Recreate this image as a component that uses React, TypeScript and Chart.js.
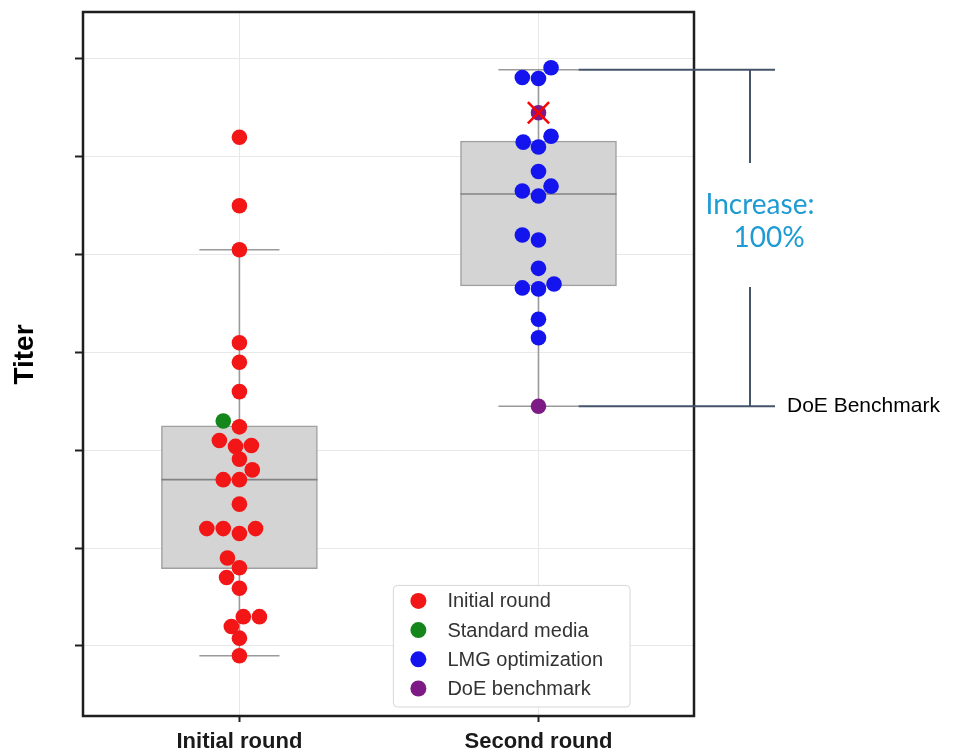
import React, { useEffect, useRef } from 'react';
import { Chart, registerables } from 'chart.js';

Chart.register(...registerables);

const FONT = "'Liberation Sans', Arial, Helvetica, sans-serif";

// Categories and axis
const categories = ['Initial round', 'Second round'];
const yTickValues = [1, 2, 3, 4, 5, 6, 7];
const yMin = 0.2845;
const yMax = 7.48;
const xMin = -0.523;
const xMax = 1.52;

// Box-plot statistics (one entry per category)
const q1 = [1.79, 4.68];
const medians = [2.7, 5.62];
const q3 = [3.25, 6.16];
const whiskerLow = [0.9, 3.45];
const whiskerHigh = [5.05, 6.89];

// Swarm points: titer values and swarm offsets (in category units)
const initialValues = [6.2, 5.5, 5.05, 4.1, 3.9, 3.6, 3.24, 3.1, 3.04, 3.05, 2.91, 2.8, 2.7, 2.7, 2.45, 2.2, 2.2, 2.15, 2.2, 1.9, 1.8, 1.7, 1.59, 1.3, 1.3, 1.2, 1.08, 0.9];
const initialOffsets = [0, 0, 0, 0, 0, 0, 0, -0.067, -0.013, 0.04, 0, 0.043, -0.054, 0, 0, -0.109, -0.054, 0, 0.054, -0.04, 0, -0.043, 0, 0.013, 0.067, -0.027, 0, 0];
const standardValues = [3.3];
const standardOffsets = [-0.054];
const lmgValues = [6.91, 6.81, 6.8, 6.21, 6.15, 6.1, 5.85, 5.7, 5.65, 5.6, 5.2, 5.15, 4.86, 4.7, 4.66, 4.65, 4.34, 4.15];
const lmgOffsets = [0.042, -0.054, 0, 0.042, -0.051, 0, 0, 0.042, -0.054, 0, -0.054, 0, 0, 0.052, -0.054, 0, 0, 0];
const doeValues = [6.45, 3.45];
const doeOffsets = [0, 0];
const excludedValues = [6.45];
const excludedOffsets = [0];

const legendLabels = ['Initial round', 'Standard media', 'LMG optimization', 'DoE benchmark'];
const increaseText = ['Increase:', '100%'];
const benchmarkText = 'DoE Benchmark';
const yTitle = 'Titer';

// style constants
const BOX_HALF = 0.261;
const CAP_HALF = 0.134;

const toPoints = (cat: number, values: number[], offsets: number[]) =>
  values.map((v, i) => ({ x: cat + offsets[i], y: v }));

const whiskerData = () => {
  const pts: any[] = [];
  categories.forEach((_, i) => {
    pts.push({ x: i, y: whiskerLow[i] }, { x: i, y: q1[i] }, { x: i, y: null });
    pts.push({ x: i, y: q3[i] }, { x: i, y: whiskerHigh[i] }, { x: i, y: null });
    pts.push({ x: i - CAP_HALF, y: whiskerLow[i] }, { x: i + CAP_HALF, y: whiskerLow[i] }, { x: i, y: null });
    pts.push({ x: i - CAP_HALF, y: whiskerHigh[i] }, { x: i + CAP_HALF, y: whiskerHigh[i] }, { x: i, y: null });
  });
  return pts;
};

const medianData = () => {
  const pts: any[] = [];
  categories.forEach((_, i) => {
    pts.push({ x: i - BOX_HALF, y: medians[i] }, { x: i + BOX_HALF, y: medians[i] }, { x: i, y: null });
  });
  return pts;
};

const overlayPlugin = {
  id: 'overlay',
  afterDraw(chart: any) {
    const { ctx, chartArea } = chart;
    const xs = chart.scales.x;
    const ys = chart.scales.y;
    ctx.save();

    // frame
    ctx.strokeStyle = '#1e1e1e';
    ctx.lineWidth = 2.5;
    ctx.strokeRect(chartArea.left, chartArea.top, chartArea.right - chartArea.left, chartArea.bottom - chartArea.top);

    // y title
    ctx.save();
    ctx.translate(chartArea.left - 50, (chartArea.top + chartArea.bottom) / 2 - 9.5);
    ctx.rotate(-Math.PI / 2);
    ctx.font = `bold 28px ${FONT}`;
    ctx.fillStyle = '#000';
    ctx.textAlign = 'center';
    ctx.textBaseline = 'alphabetic';
    ctx.fillText(yTitle, 0, 0);
    ctx.restore();

    // increase annotation
    const topY = ys.getPixelForValue(whiskerHigh[1]);
    const botY = ys.getPixelForValue(whiskerLow[1]);
    const startX = xs.getPixelForValue(1 + CAP_HALF);
    const endX = chartArea.right + 81;
    const bracketX = chartArea.right + 56;
    const mid = (topY + botY) / 2;
    ctx.strokeStyle = '#44546a';
    ctx.lineWidth = 2;
    ctx.beginPath();
    ctx.moveTo(startX, topY); ctx.lineTo(endX, topY);
    ctx.moveTo(startX, botY); ctx.lineTo(endX, botY);
    ctx.moveTo(bracketX, topY); ctx.lineTo(bracketX, mid - 75);
    ctx.moveTo(bracketX, mid + 49); ctx.lineTo(bracketX, botY);
    ctx.stroke();

    ctx.fillStyle = '#1f9bd4';
    ctx.font = `28px Lato, 'Open Sans', sans-serif`;
    ctx.textAlign = 'center';
    ctx.textBaseline = 'alphabetic';
    ctx.fillText(increaseText[0], chartArea.right + 66, mid - 24);
    ctx.fillText(increaseText[1], chartArea.right + 75, mid + 9);

    ctx.fillStyle = '#000';
    ctx.font = `21px ${FONT}`;
    ctx.textAlign = 'left';
    ctx.textBaseline = 'middle';
    ctx.fillText(benchmarkText, chartArea.right + 93, botY);

    // legend
    const items = legendLabels.map((label) => {
      const ds = chart.data.datasets.find((d: any) => d.label === label);
      return { label, color: ds ? ds.backgroundColor : '#000' };
    });
    ctx.font = `20px ${FONT}`;
    const textW = Math.max(...items.map((it) => ctx.measureText(it.label).width));
    const rowH = 29.2;
    const padTop = 15.5;
    const padBottom = 18.5;
    const w = textW + 81;
    const h = padTop + rowH * (items.length - 1) + padBottom;
    const right = chartArea.right - 64;
    const bottom = chartArea.bottom - 9;
    const left = right - w;
    const top = bottom - h;
    ctx.beginPath();
    if (ctx.roundRect) ctx.roundRect(left, top, w, h, 4);
    else ctx.rect(left, top, w, h);
    ctx.fillStyle = 'rgba(255,255,255,0.92)';
    ctx.fill();
    ctx.strokeStyle = '#d6d6d6';
    ctx.lineWidth = 1;
    ctx.stroke();
    items.forEach((it, i) => {
      const cy = top + padTop + i * rowH;
      ctx.beginPath();
      ctx.arc(left + 25, cy, 8, 0, Math.PI * 2);
      ctx.fillStyle = it.color;
      ctx.fill();
      ctx.fillStyle = '#333';
      ctx.textAlign = 'left';
      ctx.textBaseline = 'middle';
      ctx.fillText(it.label, left + 54, cy + 1);
    });

    ctx.restore();
  },
};

export default function App() {
  const canvasRef = useRef<HTMLCanvasElement | null>(null);

  useEffect(() => {
    if (!canvasRef.current) return;
    Chart.defaults.font.family = FONT;
    const pointBase = { type: 'scatter', pointRadius: 7.8, pointHoverRadius: 7.8, pointBorderWidth: 0, showLine: false, order: 1 };
    const chart = new Chart(canvasRef.current, {
      type: 'scatter',
      data: {
        datasets: [
          {
            type: 'bar',
            label: 'box',
            data: categories.map((_, i) => ({ x: i, y: [q1[i], q3[i]] })),
            backgroundColor: '#d4d4d4',
            borderColor: '#a0a0a0',
            borderWidth: 1.5,
            borderSkipped: false,
            barThickness: 156,
            order: 6,
          } as any,
          {
            type: 'scatter',
            label: 'whiskers',
            data: whiskerData(),
            showLine: true,
            spanGaps: false,
            borderColor: '#9a9a9a',
            borderWidth: 1.6,
            pointRadius: 0,
            pointHoverRadius: 0,
            order: 5,
          } as any,
          {
            type: 'scatter',
            label: 'median',
            data: medianData(),
            showLine: true,
            spanGaps: false,
            borderColor: '#828282',
            borderWidth: 1.6,
            pointRadius: 0,
            pointHoverRadius: 0,
            order: 4,
          } as any,
          { ...pointBase, label: 'Initial round', data: toPoints(0, initialValues, initialOffsets), backgroundColor: '#f21616', borderColor: '#f21616' } as any,
          { ...pointBase, label: 'Standard media', data: toPoints(0, standardValues, standardOffsets), backgroundColor: '#15861c', borderColor: '#15861c' } as any,
          { ...pointBase, label: 'LMG optimization', data: toPoints(1, lmgValues, lmgOffsets), backgroundColor: '#1414ee', borderColor: '#1414ee' } as any,
          { ...pointBase, label: 'DoE benchmark', data: toPoints(1, doeValues, doeOffsets), backgroundColor: '#7d1a85', borderColor: '#7d1a85' } as any,
          {
            type: 'scatter',
            label: 'excluded',
            data: toPoints(1, excludedValues, excludedOffsets),
            pointStyle: 'crossRot',
            pointRadius: 15,
            pointHoverRadius: 15,
            borderColor: '#ff0000',
            backgroundColor: '#ff0000',
            pointBorderWidth: 2.5,
            borderWidth: 2.5,
            order: 0,
          } as any,
        ],
      },
      options: {
        animation: false,
        responsive: false,
        events: [],
        layout: { autoPadding: false, padding: { left: 0, top: 12, right: 261, bottom: 0 } },
        plugins: { legend: { display: false }, tooltip: { enabled: false } },
        scales: {
          x: {
            type: 'linear',
            min: xMin,
            max: xMax,
            offset: false,
            afterBuildTicks: (s: any) => {
              s.ticks = categories.map((_, i) => ({ value: i }));
            },
            afterFit: (s: any) => {
              s.height = 38;
            },
            grid: { color: '#e8e8e8', lineWidth: 1, offset: false, drawTicks: true, tickLength: 6, tickColor: '#222', tickWidth: 2 },
            border: { display: false },
            ticks: {
              autoSkip: false,
              maxRotation: 0,
              padding: 7,
              color: '#1a1a1a',
              font: { family: FONT, size: 22, weight: 'bold' },
              callback: (v: any) => categories[Math.round(Number(v))] ?? '',
            },
          },
          y: {
            type: 'linear',
            min: yMin,
            max: yMax,
            beginAtZero: false,
            afterBuildTicks: (s: any) => {
              s.ticks = yTickValues.map((v) => ({ value: v }));
            },
            afterFit: (s: any) => {
              s.width = 83;
            },
            grid: { color: '#e8e8e8', lineWidth: 1, drawTicks: true, tickLength: 8, tickColor: '#222', tickWidth: 2 },
            border: { display: false },
            ticks: { display: false },
          },
        },
      } as any,
      plugins: [overlayPlugin],
    });
    return () => chart.destroy();
  }, []);

  return (
    <div style={{ position: 'absolute', left: 0, top: 0, width: 955, height: 754, background: '#fff' }}>
      <canvas ref={canvasRef} width={955} height={754} />
    </div>
  );
}
